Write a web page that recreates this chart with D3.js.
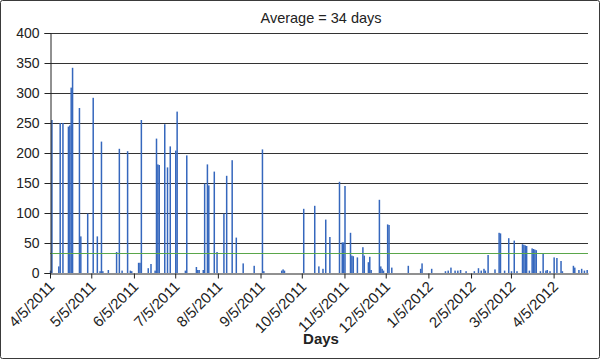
<!DOCTYPE html>
<html>
<head>
<meta charset="utf-8">
<script src="https://cdn.jsdelivr.net/npm/d3@7"></script>
<style>
  html, body { margin: 0; padding: 0; background: #fff; }
  svg { display: block; font-family: "Liberation Sans", Arial, sans-serif; }
</style>
</head>
<body>
<svg id="chart" width="600" height="359"></svg>
<script>
// ---- data ----
const dates = [
  "2011-04-05","2011-04-06","2011-04-11","2011-04-12","2011-04-14","2011-04-18","2011-04-19","2011-04-20","2011-04-21",
  "2011-04-26","2011-04-27","2011-05-02","2011-05-06","2011-05-09","2011-05-11","2011-05-12","2011-05-13","2011-05-17",
  "2011-05-23","2011-05-25","2011-05-27","2011-05-31","2011-06-02","2011-06-03","2011-06-08","2011-06-09","2011-06-10",
  "2011-06-15","2011-06-17","2011-06-20","2011-06-21","2011-06-22","2011-06-23","2011-06-27","2011-06-29","2011-07-01",
  "2011-07-05","2011-07-06","2011-07-12","2011-07-13","2011-07-20","2011-07-21","2011-07-22","2011-07-25","2011-07-26",
  "2011-07-28","2011-07-29","2011-08-02","2011-08-04","2011-08-09","2011-08-11","2011-08-15","2011-08-18","2011-08-23",
  "2011-08-31","2011-09-06","2011-09-07","2011-09-20","2011-09-21","2011-09-22","2011-10-06","2011-10-14","2011-10-17",
  "2011-10-20","2011-10-22","2011-10-25","2011-11-01","2011-11-03","2011-11-04","2011-11-05","2011-11-09","2011-11-10",
  "2011-11-11","2011-11-14","2011-11-18","2011-11-19","2011-11-22","2011-11-23","2011-11-24","2011-11-30","2011-12-01",
  "2011-12-02","2011-12-03","2011-12-06","2011-12-07","2011-12-09","2011-12-21","2011-12-30","2011-12-31","2012-01-07",
  "2012-01-17","2012-01-19","2012-01-21","2012-01-24","2012-01-26","2012-01-28","2012-02-01","2012-02-07","2012-02-10",
  "2012-02-12","2012-02-14","2012-02-15","2012-02-17","2012-02-22","2012-02-25","2012-02-26","2012-02-29","2012-03-03",
  "2012-03-05","2012-03-07","2012-03-09","2012-03-13","2012-03-14","2012-03-15","2012-03-16","2012-03-18","2012-03-20",
  "2012-03-21","2012-03-22","2012-03-23","2012-03-26","2012-03-28","2012-03-30","2012-03-31","2012-04-02","2012-04-05",
  "2012-04-07","2012-04-10","2012-04-11","2012-04-19","2012-04-20","2012-04-23","2012-04-25","2012-04-27","2012-04-29"
];
const days = [
  4,255,11,250,250,244,246,309,342,
  275,61,99,292,61,3,219,3,5,
  35,207,4,203,4,3,17,17,255,
  8,15,4,224,181,180,248,176,211,
  204,269,4,196,10,5,5,5,149,
  181,146,169,35,99,162,188,59,16,
  12,206,3,4,6,4,107,112,11,
  7,89,60,152,51,51,145,67,29,
  28,26,43,29,18,27,5,122,11,
  7,4,81,80,9,12,7,16,7,
  3,4,9,4,4,5,3,3,8,
  4,7,4,30,6,67,66,4,58,
  3,54,3,48,47,46,45,4,41,
  40,39,38,3,33,4,5,3,26,
  25,20,3,12,9,5,7,4,5
];
const average = 34;
const titleText = "Average = " + average + " days";
const xTitle = "Days";
const yTicks = [0, 50, 100, 150, 200, 250, 300, 350, 400];
const xTickDates = ["2011-04-05","2011-05-05","2011-06-05","2011-07-05","2011-08-05","2011-09-05","2011-10-05",
  "2011-11-05","2011-12-05","2012-01-05","2012-02-05","2012-03-05","2012-04-05"];
const domainStart = "2011-04-05", domainEnd = "2012-04-30";

// ---- drawing ----
const parse = d3.timeParse("%Y-%m-%d");
const fmt = d => (d.getMonth() + 1) + "/" + d.getDate() + "/" + d.getFullYear();
const svg = d3.select("#chart");
const W = 600, H = 359;
const m = { left: 50, right: 12, top: 33, bottom: 86 };

svg.append("rect").attr("x", 0.5).attr("y", 0.5).attr("width", W - 1).attr("height", H - 1)
  .attr("rx", 2).attr("fill", "#fff").attr("stroke", "#3a3a3a").attr("stroke-width", 1);

const x = d3.scaleTime().domain([parse(domainStart), parse(domainEnd)]).range([m.left, W - m.right]);
const y = d3.scaleLinear().domain([0, 400]).range([H - m.bottom, m.top]);

// gridlines
svg.append("g").selectAll("line").data(yTicks.filter(v => v > 0)).join("line")
  .attr("x1", m.left).attr("x2", W - m.right)
  .attr("y1", d => Math.round(y(d)) + 0.5).attr("y2", d => Math.round(y(d)) + 0.5)
  .attr("stroke", "#333").attr("stroke-width", 1.1);

// bars
const data = dates.map((d, i) => ({ date: parse(d), value: days[i] }));
svg.append("g").selectAll("rect").data(data).join("rect")
  .attr("x", d => x(d.date) - 0.2)
  .attr("width", 1.5)
  .attr("y", d => y(d.value))
  .attr("height", d => y(0) - y(d.value))
  .attr("fill", "#3567bd");

// average line
svg.append("line")
  .attr("x1", m.left).attr("x2", W - m.right)
  .attr("y1", Math.round(y(average)) + 0.5).attr("y2", Math.round(y(average)) + 0.5)
  .attr("stroke", "#5aa64a").attr("stroke-width", 1);

// y axis
const yAxis = d3.axisLeft(y).tickValues(yTicks).tickSize(6).tickPadding(5);
const gy = svg.append("g").attr("transform", `translate(${m.left + 0.5},0)`).call(yAxis);
gy.select(".domain").attr("stroke", "#222");
gy.selectAll(".tick line").attr("stroke", "#222");
gy.selectAll("text").attr("font-size", 14).attr("fill", "#222")
  .attr("font-family", "'Liberation Sans', Arial, sans-serif");

// x axis
const xAxis = d3.axisBottom(x).tickValues(xTickDates.map(parse)).tickFormat(fmt).tickSize(5).tickSizeOuter(0);
const gx = svg.append("g").attr("transform", `translate(0,${Math.round(y(0)) + 0.5})`).call(xAxis);
gx.select(".domain").attr("stroke", "#222");
gx.selectAll(".tick line").attr("stroke", "#222");
gx.selectAll("text")
  .attr("font-size", 15).attr("fill", "#222")
  .attr("font-family", "'Liberation Sans', Arial, sans-serif")
  .attr("text-anchor", "end")
  .attr("dy", 0).attr("y", 0)
  .attr("transform", "translate(5,14) rotate(-45)");

// title
svg.append("text").attr("x", 321).attr("y", 23).attr("text-anchor", "middle")
  .attr("font-size", 14.5).attr("fill", "#222").text(titleText);

// x-axis title
svg.append("text").attr("x", 321).attr("y", 344).attr("text-anchor", "middle")
  .attr("font-size", 15).attr("font-weight", "bold").attr("fill", "#222").text(xTitle);
</script>
</body>
</html>
